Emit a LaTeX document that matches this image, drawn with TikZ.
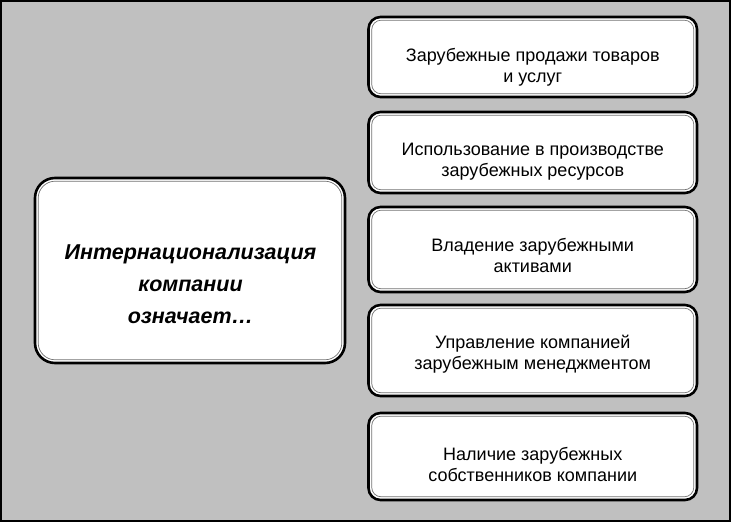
\documentclass[tikz,border=0pt]{standalone}
\usepackage{fontspec}
\setmainfont{Liberation Sans}
\begin{document}
\begin{tikzpicture}[x=1pt,y=1pt,
  box/.style={draw=black, line width=2.6pt, fill=white, rounded corners=12pt, inner sep=0pt, outer sep=0pt},
  bigbox/.style={box, rounded corners=20pt},
  innerline/.style={draw=black!55, line width=0.7pt, rounded corners=9.5pt},
  innerbig/.style={innerline, rounded corners=17pt},
  rtext/.style={align=center, font=\fontsize{18}{21}\selectfont, inner sep=0pt},
  ltext/.style={align=center, font=\fontsize{21.5}{32}\selectfont\bfseries\itshape, inner sep=0pt}
]
\fill[black] (0,0) rectangle (731,522);
\fill[fill={rgb,255:red,192;green,192;blue,192}] (2,2) rectangle (729,520);
\useasboundingbox (0,0) rectangle (731,522);

\node[bigbox, minimum width=310, minimum height=185] (L) at (190,251.5) {};
\node[box, minimum width=328.5, minimum height=80] (b1) at (532.75,465) {};
\node[box, minimum width=328.5, minimum height=81] (b2) at (532.75,369.5) {};
\node[box, minimum width=328.5, minimum height=85] (b3) at (532.75,272.5) {};
\node[box, minimum width=328.5, minimum height=91] (b4) at (532.75,171.5) {};
\node[box, minimum width=328.5, minimum height=87] (b5) at (532.75,65.5) {};

\draw[innerbig] ([shift={(3.2,3.2)}]L.south west) rectangle ([shift={(-3.2,-3.2)}]L.north east);
\foreach \n in {b1,b2,b3,b4,b5}
  \draw[innerline] ([shift={(3.2,3.2)}]\n.south west) rectangle ([shift={(-3.2,-3.2)}]\n.north east);

\node[ltext] (lt) at (190.5,238) {Интернационализация\\компании\\означает…};
\node[rtext] (t1) at (532.75,454.5) {Зарубежные продажи товаров\\и услуг};
\node[rtext] (t2) at (532.75,360) {Использование в производстве\\зарубежных ресурсов};
\node[rtext] (t3) at (532.75,266.5) {Владение зарубежными\\активами};
\node[rtext] (t4) at (532.75,167.5) {Управление компанией\\зарубежным менеджментом};
\node[rtext] (t5) at (532.75,58) {Наличие зарубежных\\собственников компании};
\end{tikzpicture}
\end{document}
